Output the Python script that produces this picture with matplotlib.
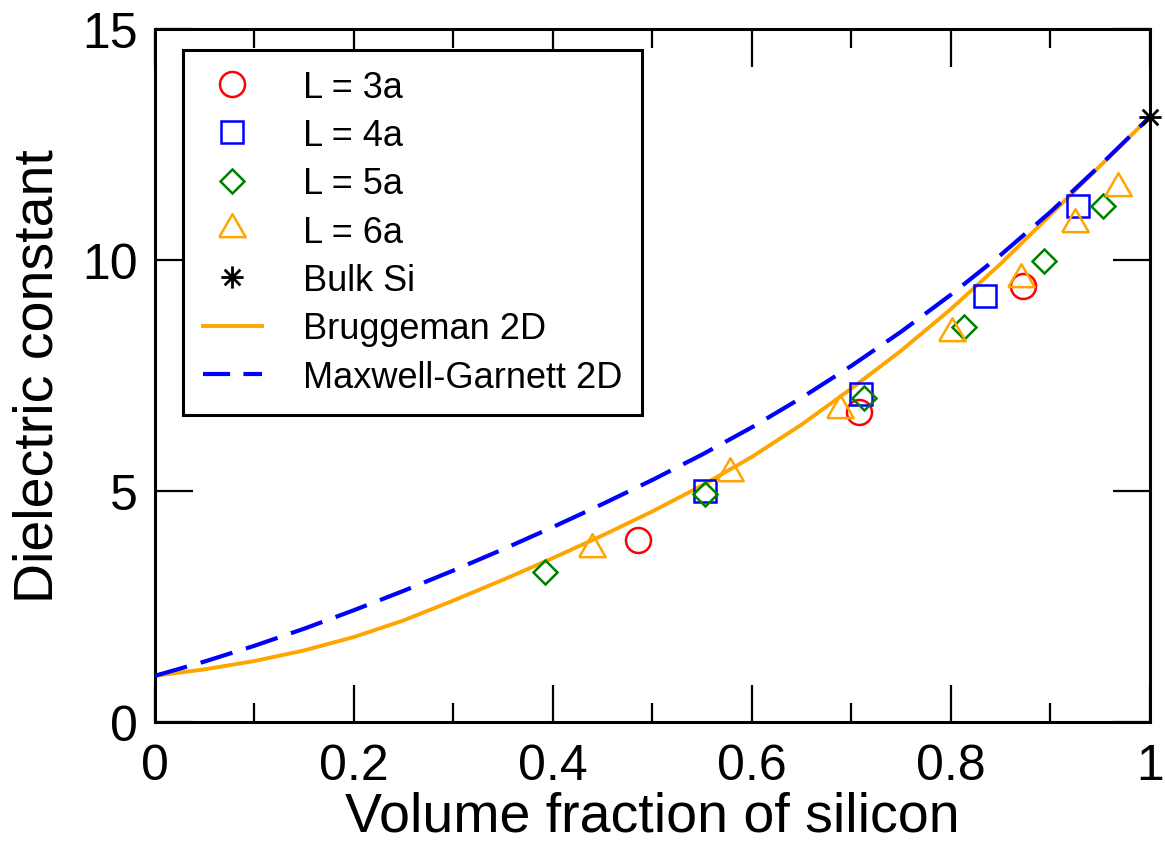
import numpy as np
import matplotlib
matplotlib.use("Agg")
import matplotlib.pyplot as plt
from matplotlib.path import Path
from matplotlib.lines import Line2D

plt.rcParams['font.family'] = ['Liberation Sans', 'DejaVu Sans']

# measured dielectric constants vs silicon volume fraction
f_L3 = [0.485, 0.708, 0.872]
eps_L3 = [3.93, 6.71, 9.44]
f_L4 = [0.553, 0.710, 0.834, 0.928]
eps_L4 = [5.00, 7.11, 9.22, 11.16]
f_L5 = [0.392, 0.553, 0.713, 0.813, 0.893, 0.953]
eps_L5 = [3.24, 4.94, 7.01, 8.54, 9.97, 11.16]
f_L6 = [0.439, 0.578, 0.688, 0.801, 0.870, 0.925, 0.968]
eps_L6 = [3.75, 5.39, 6.75, 8.43, 9.58, 10.79, 11.55]
f_bulk = [1.0]
eps_bulk = [13.1]

# effective-medium curves
f_model = [0.00, 0.05, 0.10, 0.15, 0.20, 0.25, 0.30, 0.35, 0.40, 0.45, 0.50,
           0.55, 0.60, 0.65, 0.70, 0.75, 0.80, 0.85, 0.90, 0.95, 1.00]
eps_brug = [1.00, 1.14, 1.32, 1.55, 1.84, 2.20, 2.63, 3.08, 3.55, 4.04, 4.56,
            5.12, 5.74, 6.44, 7.22, 8.04, 8.94, 9.92, 10.98, 12.04, 13.10]
eps_mg = [1.00, 1.31, 1.65, 2.02, 2.42, 2.84, 3.28, 3.74, 4.22, 4.72, 5.24,
          5.79, 6.38, 7.02, 7.71, 8.45, 9.25, 10.11, 11.04, 12.05, 13.10]

# gnuplot-style asterisk (+ and x)
d = 0.7071
asterisk = Path([(-1, 0), (1, 0), (0, -1), (0, 1), (-d, -d), (d, d), (-d, d), (d, -d)],
                [Path.MOVETO, Path.LINETO] * 4)
triangle = [(-1, -0.577), (1, -0.577), (0, 1.155), (-1, -0.577)]

fig = plt.figure(figsize=(11.65, 8.53), dpi=100)
ax = fig.add_axes([0.1330, 0.1524, 0.8541, 0.8124])

mk = dict(ls='none', mfc='none', mew=1.8)
ax.plot(f_model, eps_brug, color='#ffa500', lw=2.8, label='Bruggeman 2D', zorder=2)
ax.plot(f_model, eps_mg, color='#0000ff', lw=3.0, ls=(0, (8, 3.4)),
        label='Maxwell-Garnett 2D', zorder=3)
h3, = ax.plot(f_L3, eps_L3, marker='o', ms=18, mec='#ff0000', **mk, zorder=4)
h4, = ax.plot(f_L4, eps_L4, marker='s', ms=15.5, mec='#0000ff', **mk, zorder=4)
h5, = ax.plot(f_L5, eps_L5, marker='D', ms=12.5, mec='#008000', **mk, zorder=4)
h6, = ax.plot(f_L6, eps_L6, marker=triangle, ms=22, mec='#ffa500', **mk, zorder=4)
hb, = ax.plot(f_bulk, eps_bulk, marker=asterisk, ms=16, mec='k', mew=2.0,
              ls='none', mfc='none', zorder=5, clip_on=False)

hbr = Line2D([], [], color='#ffa500', lw=2.8)
hmg = Line2D([], [], color='#0000ff', lw=3.0, ls=(0, (6.5, 3.2)))
leg = ax.legend([h3, h4, h5, h6, hb, hbr, hmg],
                ['L = 3a', 'L = 4a', 'L = 5a', 'L = 6a', 'Bulk Si',
                 'Bruggeman 2D', 'Maxwell-Garnett 2D'],
                loc='upper left', bbox_to_anchor=(0.028, 0.970), borderaxespad=0,
                fontsize=26, frameon=True, fancybox=False, framealpha=1,
                edgecolor='k', borderpad=0.55, labelspacing=0.37,
                handlelength=1.64, handletextpad=1.14)
leg.get_frame().set_linewidth(2.2)

ax.set_xlim(0, 1)
ax.set_ylim(0, 15)
ax.set_xticks([0, 0.2, 0.4, 0.6, 0.8, 1.0])
ax.set_xticklabels(['0', '0.2', '0.4', '0.6', '0.8', '1'])
ax.set_xticks([0.1, 0.3, 0.5, 0.7, 0.9], minor=True)
ax.set_yticks([0, 5, 10, 15])
ax.tick_params(which='both', direction='in', top=True, right=True, width=1.6,
               labelsize=36)
ax.tick_params(which='major', length=27)
ax.tick_params(which='minor', length=14)
ax.tick_params(axis='x', pad=15)
ax.tick_params(axis='y', pad=12)
for s in ax.spines.values():
    s.set_linewidth(2.2)

ax.set_xlabel('Volume fraction of silicon', fontsize=40)
ax.set_ylabel('Dielectric constant', fontsize=40)
ax.xaxis.set_label_coords(0.5, -0.099)
ax.yaxis.set_label_coords(-0.091, 0.5)

fig.savefig('out.png', dpi=100)
